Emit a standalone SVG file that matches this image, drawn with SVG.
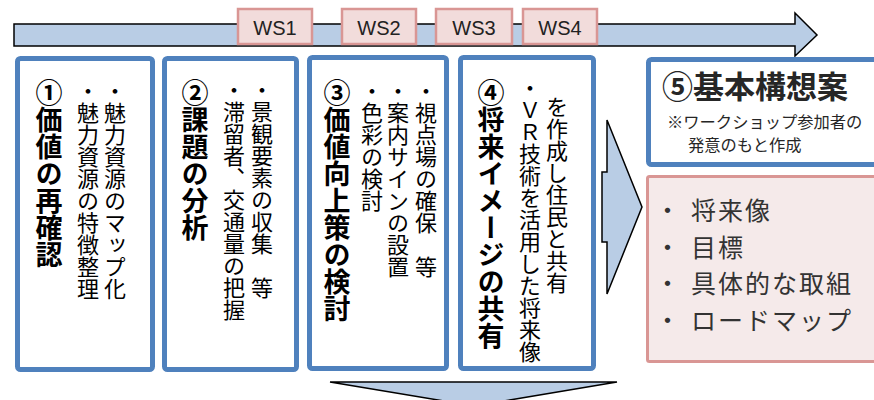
<svg xmlns="http://www.w3.org/2000/svg" width="874" height="400" viewBox="0 0 874 400">
<style>
.box{fill:#fff;stroke:#4f81bd;stroke-width:5}
.ws{fill:#f2dcdb;stroke:#d99694;stroke-width:2.5}
.arr{fill:#b9cde5;stroke:#000;stroke-width:1.5;stroke-linejoin:miter}
.wst{font-family:"Liberation Sans",Arial,sans-serif;font-size:20px;fill:#222;text-anchor:middle}
.vt{font-family:"Noto Sans CJK JP",sans-serif;writing-mode:vertical-rl;fill:#000}
.ttl{font-size:27px;font-weight:bold}
.sub{font-size:22px}
.jp{font-family:"Noto Sans CJK JP",sans-serif;fill:#262626}
.li{font-size:25px;letter-spacing:2px;fill:#333}
</style>
<rect width="874" height="400" fill="#fff"/>
<g id="connectors">
<polygon class="arr" points="14,24 795,24 795,13 817,35 795,56 795,46 14,46"/>
<polygon class="arr" points="602,172 607,172 607,120 642,207 607,294 607,242 602,242"/>
<polygon class="arr" points="330,382 617,382 474,406"/>
</g>
<g id="ws1"><rect class="ws" x="238" y="9" width="74" height="35"/><text class="wst" x="275" y="35">WS1</text></g>
<g id="ws2"><rect class="ws" x="342" y="9" width="74" height="35"/><text class="wst" x="379" y="35">WS2</text></g>
<g id="ws3"><rect class="ws" x="436" y="9" width="76" height="35"/><text class="wst" x="474" y="35">WS3</text></g>
<g id="ws4"><rect class="ws" x="523" y="9" width="74" height="35"/><text class="wst" x="560" y="35">WS4</text></g>
<g id="step1">
<rect class="box" x="17.5" y="58.5" width="135" height="311" rx="3"/>
<text class="vt ttl" x="49" y="79">①価値の再確認</text>
<text class="vt sub" x="115" y="80">・魅力資源のマップ化</text>
<text class="vt sub" x="88" y="80">・魅力資源の特徴整理</text>
</g>
<g id="step2">
<rect class="box" x="164.5" y="58.5" width="132" height="311" rx="3"/>
<text class="vt ttl" x="195" y="79">②課題の分析</text>
<text class="vt sub" x="262" y="79">・景観要素の収集　等</text>
<text class="vt sub" x="234" y="79">・滞留者、交通量の把握</text>
</g>
<g id="step3">
<rect class="box" x="309.5" y="57.5" width="137" height="311" rx="3"/>
<text class="vt ttl" x="337" y="79">③価値向上策の検討</text>
<text class="vt sub" x="426" y="80">・視点場の確保　等</text>
<text class="vt sub" x="398" y="80">・案内サインの設置</text>
<text class="vt sub" x="372" y="80">・色彩の検討</text>
</g>
<g id="step4">
<rect class="box" x="460.5" y="57.5" width="133" height="311" rx="3"/>
<text class="vt ttl" x="491" y="79">④将来イメージの共有</text>
<text class="vt sub" x="530" y="77">・ＶＲ技術を活用した将来像</text>
<text class="vt sub" x="557" y="96">を作成し住民と共有</text>
</g>
<g id="step5">
<rect class="box" x="648.5" y="59.5" width="240" height="105" rx="3"/>
<text class="jp" x="662" y="98" font-size="31" font-weight="bold">⑤基本構想案</text>
<text class="jp" x="667" y="128" font-size="16.3" fill="#404040">※ワークショップ参加者の</text>
<text class="jp" x="688" y="151" font-size="16.3" fill="#404040">発意のもと作成</text>
</g>
<g id="contents">
<rect x="647.5" y="176.5" width="240" height="185" rx="2" fill="#f5eaea" stroke="#d99694" stroke-width="3"/>
<text class="jp li"><tspan x="655" y="220">・</tspan><tspan x="691" y="220">将来像</tspan><tspan x="655" y="256.5">・</tspan><tspan x="691" y="256.5">目標</tspan><tspan x="655" y="293">・</tspan><tspan x="691" y="293">具体的な取組</tspan><tspan x="655" y="329.5">・</tspan><tspan x="691" y="329.5">ロードマップ</tspan></text>
</g>
</svg>
